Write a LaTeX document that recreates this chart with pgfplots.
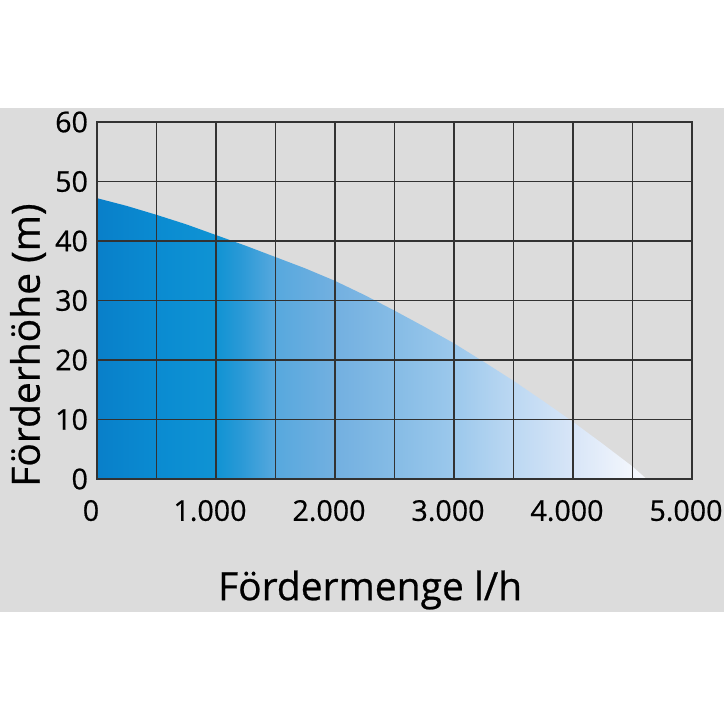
\documentclass[border=0pt]{standalone}
\usepackage{pgfplots}
\pgfplotsset{compat=1.18}
\usepackage{fontspec}
\setmainfont{Open Sans}[FakeBold=0.6]
\definecolor{bggrey}{RGB}{220,220,220}
\definecolor{gridcol}{RGB}{50,50,50}
% path bbox maps to 25bp..75bp of the shading
\pgfdeclarehorizontalshading{pumpshade}{100bp}{%
  rgb(0bp)=(0.035,0.50,0.79);
  rgb(25bp)=(0.035,0.50,0.79);
  rgb(30.4bp)=(0.04,0.545,0.82);
  rgb(35.8bp)=(0.06,0.577,0.83);
  rgb(38bp)=(0.16,0.60,0.84);
  rgb(41.2bp)=(0.34,0.66,0.87);
  rgb(46.7bp)=(0.45,0.69,0.88);
  rgb(52.1bp)=(0.525,0.737,0.90);
  rgb(57.5bp)=(0.61,0.785,0.925);
  rgb(62.9bp)=(0.737,0.847,0.95);
  rgb(68.3bp)=(0.847,0.90,0.97);
  rgb(73.7bp)=(0.95,0.965,0.99);
  rgb(75bp)=(0.97,0.975,0.995);
  rgb(100bp)=(0.97,0.975,0.995)}
\begin{document}
\begin{tikzpicture}
\fill[white] (0,0) rectangle (362pt,362pt);
\fill[bggrey] (0,56pt) rectangle (362pt,308pt);
\begin{axis}[
  at={(48.5pt,122.5pt)}, anchor=south west,
  scale only axis,
  width=297.5pt, height=178.5pt,
  xmin=0, xmax=5000, ymin=0, ymax=60,
  xtick={0,1000,...,5000},
  minor xtick={500,1500,...,4500},
  ytick={0,10,...,60},
  xticklabels={0,1.000,2.000,3.000,4.000,5.000},
  grid=both,
  major grid style={gridcol, line width=0.65pt},
  minor grid style={gridcol, line width=0.65pt},
  axis line style={gridcol, line width=0.65pt},
  tick style={draw=none},
  axis on top,
  /pgf/number format/assume math mode=true,
  ticklabel style={font=\fontsize{14.3}{16}\selectfont},
  xticklabel style={yshift=-7pt, xshift=-3pt},
  yticklabel style={xshift=-1pt},
  xlabel={Fördermenge l/h},
  ylabel={Förderhöhe (m)},
  label style={font=\fontsize{19.5}{22}\selectfont},
  xlabel style={at={(axis description cs:0.459,-0.311)}, anchor=center},
  ylabel style={at={(axis description cs:-0.116,0.375)}, anchor=center},
]
\addplot[draw=none, shading=pumpshade] coordinates {
  (0,47.2)(250,45.9)(500,44.4)(750,42.8)(1000,41.0)(1250,39.2)(1500,37.3)
  (1750,35.4)(2000,33.3)(2250,30.9)(2500,28.3)(2750,25.6)(3000,22.8)
  (3250,19.7)(3500,16.5)(3750,13.1)(4000,9.6)(4250,5.9)(4500,2.1)(4618,0)
} \closedcycle;
\end{axis}
\pgfresetboundingbox
\path (0,0) rectangle (362pt,362pt);
\end{tikzpicture}
\end{document}
